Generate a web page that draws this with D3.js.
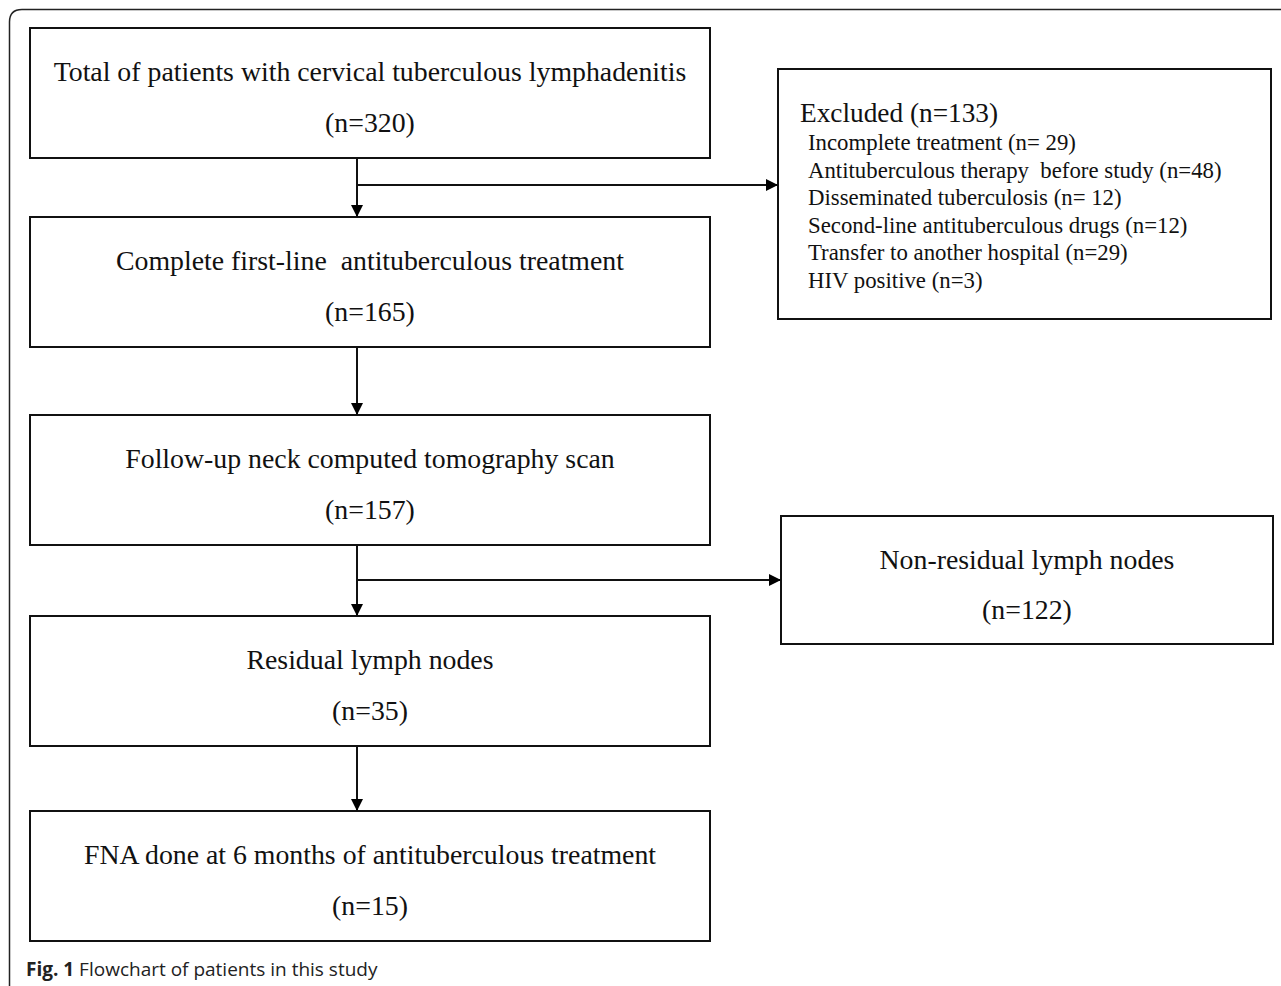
<!DOCTYPE html>
<html>
<head>
<meta charset="utf-8">
<script src="https://cdn.jsdelivr.net/npm/d3@7"></script>
<style>
  html, body { margin: 0; padding: 0; background: #fff; }
  svg { display: block; }
</style>
</head>
<body>
<div id="vis"></div>
<script>
// flowchart data
const stepLabels = [
  'Total of patients with cervical tuberculous lymphadenitis',
  'Complete first-line  antituberculous treatment',
  'Follow-up neck computed tomography scan',
  'Residual lymph nodes',
  'FNA done at 6 months of antituberculous treatment'
];
const stepCounts = [320, 165, 157, 35, 15];

const excludedTitle = 'Excluded';
const excludedTotal = 133;
const excludedReasons = [
  'Incomplete treatment (n= 29)',
  'Antituberculous therapy  before study (n=48)',
  'Disseminated tuberculosis (n= 12)',
  'Second-line antituberculous drugs (n=12)',
  'Transfer to another hospital (n=29)',
  'HIV positive (n=3)'
];
const nonResidualLabel = 'Non-residual lymph nodes';
const nonResidualCount = 122;

const captionBold = 'Fig. 1';
const captionText = ' Flowchart of patients in this study';

// layout
const W = 1281, H = 986;
const mainX = 30, mainW = 680, boxH = 130;
const mainTops = [28, 217, 415, 616, 811];
const arrowX = 357;
const serif = '"Liberation Serif", "Times New Roman", serif';
const bigFont = '27.8px';

const svg = d3.select('#vis').append('svg')
  .attr('width', W).attr('height', H)
  .attr('viewBox', `0 0 ${W} ${H}`);

svg.append('defs').append('marker')
  .attr('id', 'head')
  .attr('viewBox', '0 0 12 12')
  .attr('refX', 12).attr('refY', 6)
  .attr('markerWidth', 12).attr('markerHeight', 12)
  .attr('markerUnits', 'userSpaceOnUse')
  .attr('orient', 'auto')
  .append('path').attr('d', 'M0,0 L12,6 L0,12 Z').attr('fill', '#000');

// outer figure frame (rounded top-left, open at right/bottom)
svg.append('path')
  .attr('d', `M9.5,${H + 2} L9.5,22 Q9.5,9.5 22,9.5 L${W + 2},9.5`)
  .attr('fill', 'none').attr('stroke', '#222').attr('stroke-width', 1.5);

// main column boxes
const steps = svg.selectAll('g.step')
  .data(stepLabels.map((label, i) => ({ label, n: stepCounts[i], top: mainTops[i] })))
  .enter().append('g').attr('class', 'step');

steps.append('rect')
  .attr('x', mainX).attr('y', d => d.top)
  .attr('width', mainW).attr('height', boxH)
  .attr('fill', '#fff').attr('stroke', '#111').attr('stroke-width', 2);

steps.append('text')
  .attr('x', mainX + mainW / 2).attr('y', d => d.top + 53)
  .attr('text-anchor', 'middle')
  .style('font-family', serif).style('font-size', bigFont).attr('fill', '#111')
  .attr('xml:space', 'preserve')
  .text(d => d.label);

steps.append('text')
  .attr('x', mainX + mainW / 2).attr('y', d => d.top + 104)
  .attr('text-anchor', 'middle')
  .style('font-family', serif).style('font-size', bigFont).attr('fill', '#111')
  .text(d => `(n=${d.n})`);

// vertical arrows between boxes
const links = d3.pairs(mainTops);
svg.selectAll('line.down')
  .data(links).enter().append('line')
  .attr('class', 'down')
  .attr('x1', arrowX).attr('x2', arrowX)
  .attr('y1', d => d[0] + boxH).attr('y2', d => d[1])
  .attr('stroke', '#111').attr('stroke-width', 2)
  .attr('marker-end', 'url(#head)');

// side boxes
const excl = { x: 778, y: 69, w: 493, h: 250 };
const nonRes = { x: 781, y: 516, w: 492, h: 128 };

[excl, nonRes].forEach(b => {
  svg.append('rect')
    .attr('x', b.x).attr('y', b.y).attr('width', b.w).attr('height', b.h)
    .attr('fill', '#fff').attr('stroke', '#111').attr('stroke-width', 2);
});

// side arrows
const sideArrows = [
  { y: 185, to: excl.x },
  { y: 580, to: nonRes.x }
];
svg.selectAll('line.side')
  .data(sideArrows).enter().append('line')
  .attr('class', 'side')
  .attr('x1', arrowX).attr('x2', d => d.to)
  .attr('y1', d => d.y).attr('y2', d => d.y)
  .attr('stroke', '#111').attr('stroke-width', 2)
  .attr('marker-end', 'url(#head)');

// excluded contents
svg.append('text')
  .attr('x', 800).attr('y', 122)
  .style('font-family', serif).style('font-size', '27.3px').attr('fill', '#111')
  .text(`${excludedTitle} (n=${excludedTotal})`);

svg.selectAll('text.reason')
  .data(excludedReasons).enter().append('text')
  .attr('class', 'reason')
  .attr('x', 808).attr('y', (d, i) => 150 + i * 27.6)
  .attr('xml:space', 'preserve')
  .style('font-family', serif).style('font-size', '22.8px').attr('fill', '#111')
  .text(d => d);

// non-residual contents
svg.append('text')
  .attr('x', nonRes.x + nonRes.w / 2).attr('y', 569)
  .attr('text-anchor', 'middle')
  .style('font-family', serif).style('font-size', bigFont).attr('fill', '#111')
  .text(nonResidualLabel);
svg.append('text')
  .attr('x', nonRes.x + nonRes.w / 2).attr('y', 619)
  .attr('text-anchor', 'middle')
  .style('font-family', serif).style('font-size', bigFont).attr('fill', '#111')
  .text(`(n=${nonResidualCount})`);

// caption
const cap = svg.append('text')
  .attr('x', 26).attr('y', 976)
  .style('font-family', '"Open Sans", "Noto Sans", sans-serif').style('font-size', '19px')
  .attr('fill', '#222');
cap.append('tspan').style('font-weight', 'bold').text(captionBold);
cap.append('tspan').attr('xml:space', 'preserve').text(captionText);
</script>
</body>
</html>
